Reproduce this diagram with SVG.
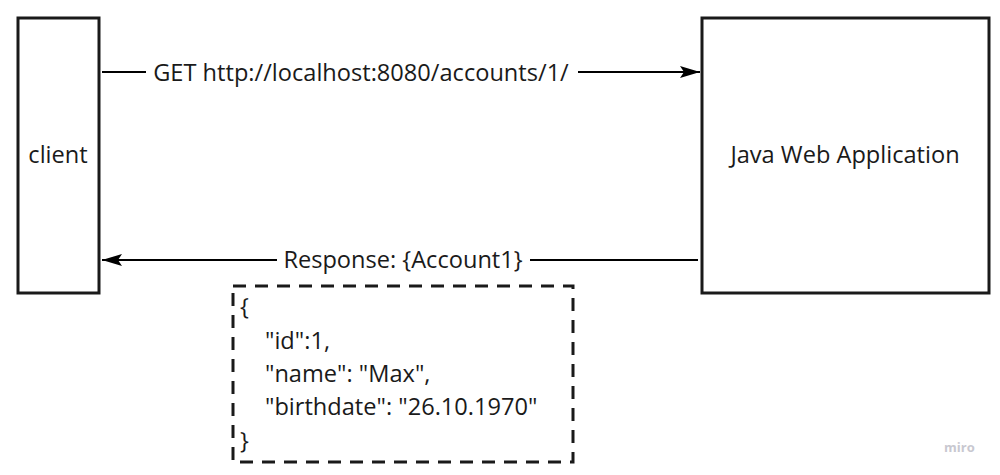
<svg xmlns="http://www.w3.org/2000/svg" width="1000" height="475" viewBox="0 0 1000 475">
<style>
text{font-family:"Open Sans","Liberation Sans",sans-serif;font-size:23.6px;fill:#1a1a1a}
.box{fill:#fff;stroke:#1a1a1a;stroke-width:3}
.dash{fill:none;stroke:#1a1a1a;stroke-width:3;stroke-dasharray:13 9}
.conn{stroke:#000;stroke-width:2;fill:none}
.wm{font-size:13px;font-weight:bold;fill:#c8c8d0}
</style>
<defs>
<marker id="arr" viewBox="0 0 20 12" refX="20" refY="6" markerWidth="20" markerHeight="12" markerUnits="userSpaceOnUse" orient="auto">
<path d="M0,0 L20,6 L0,12 L4,6 Z" fill="#000"/>
</marker>
</defs>
<rect width="1000" height="475" fill="#fff"/>
<g id="client">
<rect class="box" x="18" y="18" width="81" height="275"/>
<text x="58" y="163" text-anchor="middle">client</text>
</g>
<g id="java-web-app">
<rect class="box" x="702" y="18" width="287" height="275"/>
<text x="845" y="163" text-anchor="middle">Java Web Application</text>
</g>
<g id="connectors">
<line class="conn" x1="102" y1="72" x2="146" y2="72"/>
<line class="conn" x1="578" y1="72" x2="700" y2="72" marker-end="url(#arr)"/>
<text x="361" y="81" text-anchor="middle">GET http://localhost:8080/accounts/1/</text>
<line class="conn" x1="698" y1="260" x2="530" y2="260"/>
<line class="conn" x1="277" y1="260" x2="102" y2="260" marker-end="url(#arr)"/>
<text x="403" y="268" text-anchor="middle">Response: {Account1}</text>
</g>
<g id="json-note">
<rect class="dash" x="233" y="286" width="340" height="176"/>
<text x="240" y="315">{</text>
<text x="265" y="349">"id":1,</text>
<text x="265" y="382">"name": "Max",</text>
<text x="265" y="415">"birthdate": "26.10.1970"</text>
<text x="240" y="449">}</text>
</g>
<text class="wm" x="944" y="452">miro</text>
</svg>
